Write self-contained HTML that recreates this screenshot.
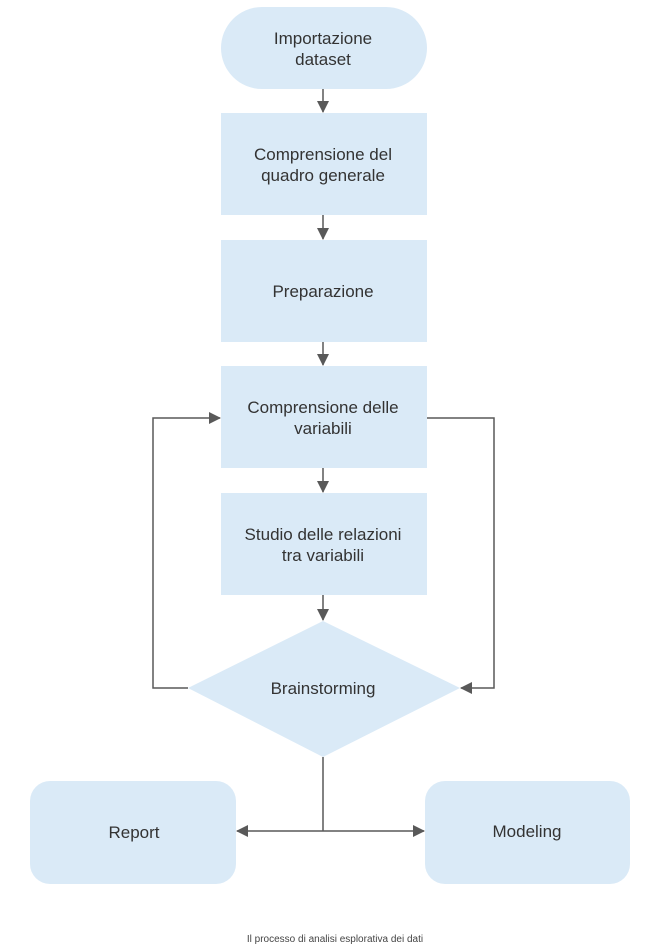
<!DOCTYPE html>
<html><head><meta charset="utf-8"><style>
html,body{margin:0;padding:0;background:#fff;}
svg{display:block;}
text{font-family:"Liberation Sans",sans-serif;fill:#333;font-size:17px;text-anchor:middle;}
</style></head><body>
<svg width="671" height="949" viewBox="0 0 671 949">
<defs><marker id="a" markerWidth="12" markerHeight="12" refX="11" refY="6" orient="auto" markerUnits="userSpaceOnUse"><path d="M0,0 L12,6 L0,12 z" fill="#595959"/></marker></defs>
<g fill="#daeaf7">
<rect x="221" y="7" width="206" height="82" rx="41"/>
<rect x="221" y="113" width="206" height="102"/>
<rect x="221" y="240" width="206" height="102"/>
<rect x="221" y="366" width="206" height="102"/>
<rect x="221" y="493" width="206" height="102"/>
<polygon points="323,621 460,688 323,757 188,688"/>
<rect x="30" y="781" width="206" height="103" rx="20"/>
<rect x="425" y="781" width="205" height="103" rx="20"/>
</g>
<g stroke="#595959" stroke-width="1.5" fill="none">
<line x1="323" y1="89" x2="323" y2="112" marker-end="url(#a)"/>
<line x1="323" y1="215" x2="323" y2="239" marker-end="url(#a)"/>
<line x1="323" y1="342" x2="323" y2="365" marker-end="url(#a)"/>
<line x1="323" y1="468" x2="323" y2="492" marker-end="url(#a)"/>
<line x1="323" y1="595" x2="323" y2="620" marker-end="url(#a)"/>
<polyline points="188,688 153,688 153,418 220,418" marker-end="url(#a)"/>
<polyline points="427,418 494,418 494,688 461,688" marker-end="url(#a)"/>
<line x1="323" y1="757" x2="323" y2="831"/>
<line x1="323" y1="831" x2="237" y2="831" marker-end="url(#a)"/>
<line x1="323" y1="831" x2="424" y2="831" marker-end="url(#a)"/>
</g>
<text x="323" y="44">Importazione</text>
<text x="323" y="65">dataset</text>
<text x="323" y="160">Comprensione del</text>
<text x="323" y="181">quadro generale</text>
<text x="323" y="297">Preparazione</text>
<text x="323" y="413">Comprensione delle</text>
<text x="323" y="434">variabili</text>
<text x="323" y="540">Studio delle relazioni</text>
<text x="323" y="561">tra variabili</text>
<text x="323" y="694">Brainstorming</text>
<text x="134" y="838">Report</text>
<text x="527" y="837">Modeling</text>
<text x="335" y="942" style="font-size:10px;fill:#444">Il processo di analisi esplorativa dei dati</text>
</svg>
</body></html>
